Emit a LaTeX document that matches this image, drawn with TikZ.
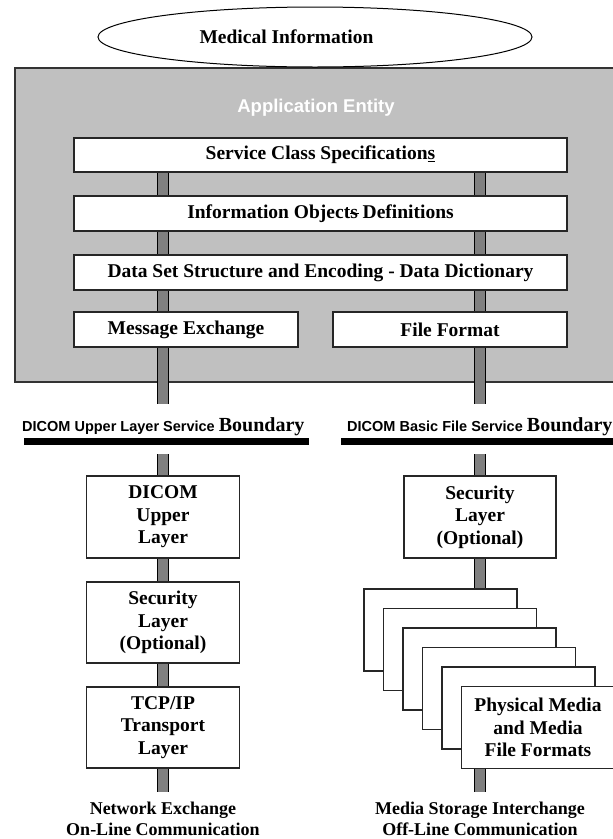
\documentclass[tikz,border=0pt]{standalone}
\usepackage{fontspec}
\setmainfont{Liberation Serif}
\newfontfamily\arialf{Liberation Sans}
\usetikzlibrary{shapes.geometric,backgrounds}
\definecolor{aegray}{HTML}{C0C0C0}
\definecolor{barfill}{HTML}{808080}
\newcommand{\strikes}{\rlap{\rule[0.22em]{0.45em}{0.07em}}s}
\tikzset{
  layerbox/.style={draw=black!85, line width=1.2pt, fill=white, inner sep=0pt, align=center,
    font=\bfseries\fontsize{19.5}{22.5}\selectfont},
  stackbox/.style={draw=black!85, line width=1.2pt, fill=white, inner sep=0pt, align=center,
    minimum width=153pt, minimum height=82pt, font=\bfseries\fontsize{19.5}{22.5}\selectfont},
  barline/.style={draw=black, line width=0.9pt, double=barfill, double distance=9.5pt},
  caption/.style={align=center, font=\bfseries\fontsize{18}{21}\selectfont, inner sep=0pt},
  boundbar/.style={fill=black, inner sep=0pt, minimum height=7pt},
  boundlabel/.style={anchor=base west, inner sep=0pt, font=\arialf\bfseries\fontsize{14.5}{16}\selectfont},
}
\begin{document}
\begin{tikzpicture}[x=1pt,y=-1pt]
\useasboundingbox (0,0) rectangle (613,839);
\clip (0,0) rectangle (613,839);

% top ellipse
\node[ellipse, draw=black, line width=1pt, minimum width=434pt, minimum height=60pt, inner sep=0pt] (mi) at (315,37) {};
\node[font=\bfseries\fontsize{19.5}{22}\selectfont, inner sep=0pt] (mitxt) at (286.5,37) {Medical Information};

% application entity title
\node[text=white, font=\arialf\bfseries\fontsize{18.5}{20}\selectfont, inner sep=0pt] (aetitle) at (316,108) {Application Entity};

% upper boxes
\node[layerbox, minimum width=493pt, minimum height=34pt] (sc) at (320.5,155) {Service Class Specification\underline{s}};
\node[layerbox, minimum width=493pt, minimum height=35pt] (io) at (320.5,213.5) {Information Object\strikes{} Definitions};
\node[layerbox, minimum width=493pt, minimum height=35pt] (ds) at (320.5,272.5) {Data Set Structure and Encoding - Data Dictionary};
\node[layerbox, minimum width=224pt, minimum height=35pt] (me) at (186,329.5) {Message Exchange};
\node[layerbox, minimum width=234pt, minimum height=35pt] (ff) at (450,329.5) {File Format};

% boundaries
\node[boundlabel] (bl1) at (22,431) {DICOM Upper Layer Service \rmfamily\bfseries\fontsize{20}{22}\selectfont Boundary};
\node[boundlabel] (bl2) at (347,431) {DICOM Basic File Service \rmfamily\bfseries\fontsize{20}{22}\selectfont Boundary};
\node[boundbar, minimum width=285pt] (bnd1) at (166.5,441.5) {};
\node[boundbar, minimum width=275pt] (bnd2) at (478.5,441.5) {};

% lower left column
\node[layerbox, minimum width=153pt, minimum height=82pt] (dul) at (163,517) {DICOM\\Upper\\Layer};
\node[layerbox, minimum width=153pt, minimum height=81pt] (sl) at (163,622.5) {Security\\Layer\\(Optional)};
\node[layerbox, minimum width=153pt, minimum height=81pt] (tcp) at (163,727.5) {TCP/IP\\Transport\\Layer};

% lower right column
\node[layerbox, minimum width=152pt, minimum height=82pt] (sr) at (480,517) {Security\\Layer\\(Optional)};
\node[stackbox] (st0) at (440.5,630) {};
\node[stackbox] (st1) at (460,649.5) {};
\node[stackbox] (st2) at (479.5,669) {};
\node[stackbox] (st3) at (499,688.5) {};
\node[stackbox] (st4) at (518.5,708) {};
\node[stackbox] (st5) at (538,727.5) {Physical Media\\and Media\\File Formats};

% captions
\node[caption] (netx) at (163,818.5) {Network Exchange\\On-Line Communication};
\node[caption] (medx) at (480,818.5) {Media Storage Interchange\\Off-Line Communication};

% bar coordinates
\coordinate (lx) at (163,0);
\coordinate (rx) at (480,0);
\coordinate (lb1) at (163,404);
\coordinate (lb2) at (163,454);
\coordinate (lend) at (163,792);
\coordinate (rb1) at (480,404);
\coordinate (rb2) at (480,454);
\coordinate (rend) at (480,792);

\begin{pgfonlayer}{background}
  \node[draw=black!80, line width=1.3pt, fill=aegray, minimum width=601pt, minimum height=314pt, inner sep=0pt] (ae) at (315.5,225) {};
  % left bars
  \draw[barline] (sc.south -| lx) -- (io.north -| lx);
  \draw[barline] (io.south -| lx) -- (ds.north -| lx);
  \draw[barline] (ds.south -| lx) -- (me.north -| lx);
  \draw[barline] (me.south -| lx) -- (lb1);
  \draw[barline] (lb2) -- (dul.north);
  \draw[barline] (dul) -- (sl);
  \draw[barline] (sl) -- (tcp);
  \draw[barline] (tcp.south) -- (lend);
  % right bars
  \draw[barline] (sc.south -| rx) -- (io.north -| rx);
  \draw[barline] (io.south -| rx) -- (ds.north -| rx);
  \draw[barline] (ds.south -| rx) -- (ff.north -| rx);
  \draw[barline] (ff.south -| rx) -- (rb1);
  \draw[barline] (rb2) -- (sr.north);
  \draw[barline] (sr.south) -- (sr.south |- st0.north);
  \draw[barline] (st5.south -| rx) -- (rend);
\end{pgfonlayer}
\end{tikzpicture}
\end{document}
